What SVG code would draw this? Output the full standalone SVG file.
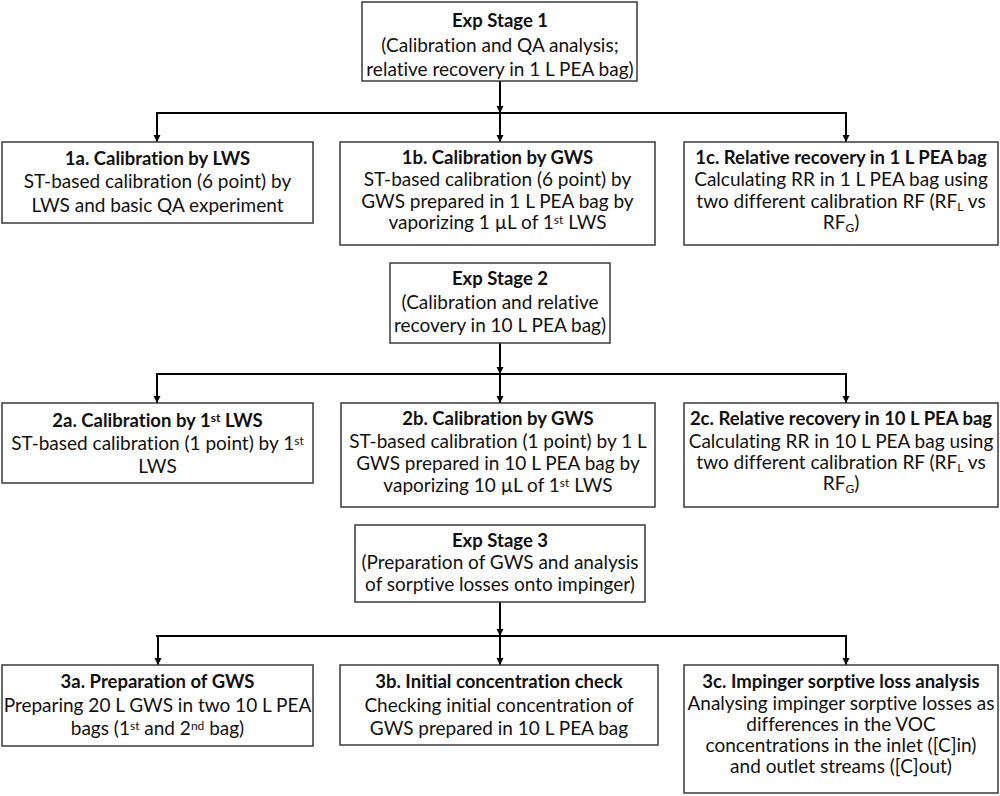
<svg xmlns="http://www.w3.org/2000/svg" width="1000" height="796" viewBox="0 0 1000 796">
<defs>
<marker id="arr" markerUnits="userSpaceOnUse" markerWidth="8" markerHeight="8" refX="7" refY="4" orient="auto">
<path d="M0,0.5 L7,4 L0,7.5 z" fill="#000"/>
</marker>
<style>
.box{fill:#fff;stroke:#3a3a3a;stroke-width:1.5}
.t{font-family:Lato,"Liberation Sans",sans-serif;font-size:19px;fill:#111;text-anchor:middle;font-variant-ligatures:none}
.b{font-weight:bold;font-size:18.5px}
.sup{font-size:12px}
.ln{fill:none;stroke:#000;stroke-width:2}
.la{fill:none;stroke:#000;stroke-width:2;marker-end:url(#arr)}
</style>
</defs>
<rect width="1000" height="796" fill="#fff"/>
<g id="connectors">
<path class="la" d="M500,81 V113"/>
<path class="ln" d="M156,113 H847"/>
<path class="la" d="M157,113 V142"/>
<path class="la" d="M500,113 V142"/>
<path class="la" d="M846,113 V142"/>
<path class="la" d="M500,343 V374"/>
<path class="ln" d="M156,374 H847"/>
<path class="la" d="M157,374 V403"/>
<path class="la" d="M500,374 V403"/>
<path class="la" d="M846,374 V403"/>
<path class="la" d="M500,602 V636"/>
<path class="ln" d="M156,636 H847"/>
<path class="la" d="M158,636 V665"/>
<path class="la" d="M500,636 V665"/>
<path class="la" d="M846,636 V665"/>
</g>
<g id="stage1">
<rect class="box" x="362" y="2" width="275" height="79"/>
<text class="t b" x="500" y="27">Exp Stage 1</text>
<text class="t" x="500" y="52">(Calibration and QA analysis;</text>
<text class="t" x="500" y="76">relative recovery in 1 L PEA bag)</text>
</g>
<g id="n1a">
<rect class="box" x="2" y="142" width="311" height="81"/>
<text class="t b" x="157.5" y="165">1a. Calibration by LWS</text>
<text class="t" x="157.5" y="188">ST-based calibration (6 point) by</text>
<text class="t" x="157.5" y="212">LWS and basic QA experiment</text>
</g>
<g id="n1b">
<rect class="box" x="340" y="142" width="315" height="103"/>
<text class="t b" x="497.5" y="164">1b. Calibration by GWS</text>
<text class="t" x="497.5" y="186">ST-based calibration (6 point) by</text>
<text class="t" x="497.5" y="208">GWS prepared in 1 L PEA bag by</text>
<text class="t" x="497.5" y="229">vaporizing 1 µL of 1<tspan class="sup" baseline-shift="5">st</tspan> LWS</text>
</g>
<g id="n1c">
<rect class="box" x="684" y="142" width="314" height="103"/>
<text class="t b" x="841" y="164">1c. Relative recovery in 1 L PEA bag</text>
<text class="t" x="841" y="186">Calculating RR in 1 L PEA bag using</text>
<text class="t" x="841" y="208">two different calibration RF (RF<tspan class="sup" baseline-shift="-3">L</tspan> vs</text>
<text class="t" x="841" y="229">RF<tspan class="sup" baseline-shift="-3">G</tspan>)</text>
</g>
<g id="stage2">
<rect class="box" x="390" y="263" width="220" height="80"/>
<text class="t b" x="500" y="285">Exp Stage 2</text>
<text class="t" x="500" y="309">(Calibration and relative</text>
<text class="t" x="500" y="332">recovery in 10 L PEA bag)</text>
</g>
<g id="n2a">
<rect class="box" x="2" y="403" width="311" height="80"/>
<text class="t b" x="157.5" y="427">2a. Calibration by 1<tspan class="sup" baseline-shift="5">st</tspan> LWS</text>
<text class="t" x="157.5" y="450">ST-based calibration (1 point) by 1<tspan class="sup" baseline-shift="5">st</tspan></text>
<text class="t" x="157.5" y="473">LWS</text>
</g>
<g id="n2b">
<rect class="box" x="341" y="403" width="314" height="104"/>
<text class="t b" x="498" y="425">2b. Calibration by GWS</text>
<text class="t" x="498" y="448">ST-based calibration (1 point) by 1 L</text>
<text class="t" x="498" y="470">GWS prepared in 10 L PEA bag by</text>
<text class="t" x="498" y="492">vaporizing 10 µL of 1<tspan class="sup" baseline-shift="5">st</tspan> LWS</text>
</g>
<g id="n2c">
<rect class="box" x="684" y="403" width="314" height="104"/>
<text class="t b" x="841" y="425">2c. Relative recovery in 10 L PEA bag</text>
<text class="t" x="841" y="448">Calculating RR in 10 L PEA bag using</text>
<text class="t" x="841" y="469">two different calibration RF (RF<tspan class="sup" baseline-shift="-3">L</tspan> vs</text>
<text class="t" x="841" y="490">RF<tspan class="sup" baseline-shift="-3">G</tspan>)</text>
</g>
<g id="stage3">
<rect class="box" x="355" y="525" width="290" height="77"/>
<text class="t b" x="500" y="547">Exp Stage 3</text>
<text class="t" x="500" y="569">(Preparation of GWS and analysis</text>
<text class="t" x="500" y="591">of sorptive losses onto impinger)</text>
</g>
<g id="n3a">
<rect class="box" x="2" y="665" width="311" height="81"/>
<text class="t b" x="157.5" y="688">3a. Preparation of GWS</text>
<text class="t" x="157.5" y="712">Preparing 20 L GWS in two 10 L PEA</text>
<text class="t" x="157.5" y="735">bags (1<tspan class="sup" baseline-shift="5">st</tspan> and 2<tspan class="sup" baseline-shift="5">nd</tspan> bag)</text>
</g>
<g id="n3b">
<rect class="box" x="340" y="665" width="318" height="80"/>
<text class="t b" x="499" y="688">3b. Initial concentration check</text>
<text class="t" x="499" y="712">Checking initial concentration of</text>
<text class="t" x="499" y="735">GWS prepared in 10 L PEA bag</text>
</g>
<g id="n3c">
<rect class="box" x="684" y="665" width="314" height="128"/>
<text class="t b" x="841" y="688">3c. Impinger sorptive loss analysis</text>
<text class="t" x="841" y="710">Analysing impinger sorptive losses as</text>
<text class="t" x="841" y="731">differences in the VOC</text>
<text class="t" x="841" y="752">concentrations in the inlet ([C]in)</text>
<text class="t" x="841" y="773">and outlet streams ([C]out)</text>
</g>
</svg>
